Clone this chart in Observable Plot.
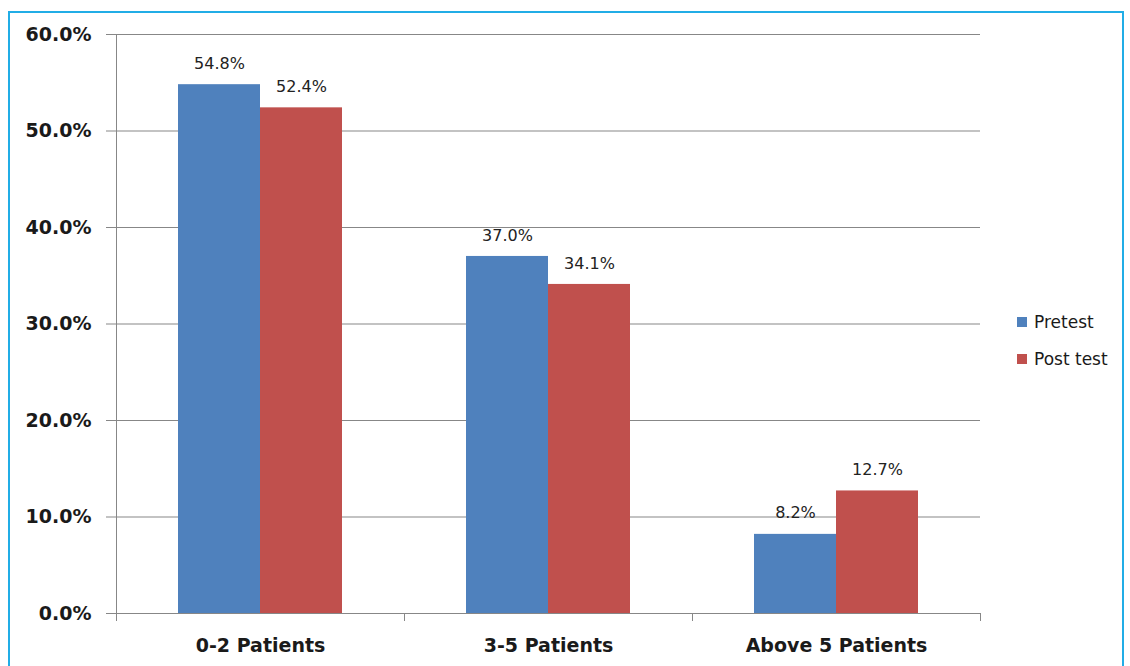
<!DOCTYPE html>
<html>
<head>
<meta charset="utf-8">
<script src="https://cdn.jsdelivr.net/npm/d3@7"></script>
<script src="https://cdn.jsdelivr.net/npm/@observablehq/plot@0.6"></script>
<style>
  html, body { margin: 0; padding: 0; background: #fff; }
  #wrap { position: relative; width: 1130px; height: 666px; overflow: hidden; font-family: "DejaVu Sans", Verdana, sans-serif; }
  #border { position: absolute; left: 8px; top: 11px; width: 1116px; height: 700px; border: 2px solid #21ade6; box-sizing: border-box; }
  #chart { position: absolute; left: 0; top: 0; }
  #chart svg [aria-label="y-axis tick label"] text,
  #chart svg [aria-label="fx-axis tick label"] text { font-weight: bold; }
  .legend { position: absolute; left: 1017px; font-size: 17px; color: #1a1a1a; }
  .legend .item { position: absolute; left: 0; white-space: nowrap; display: flex; align-items: center; height: 20px; }
  .legend .sw { width: 10px; height: 10px; margin-right: 7px; }
</style>
</head>
<body>
<div id="wrap">
  <div id="border"></div>
  <div id="chart"></div>
  <div class="legend" id="legend"></div>
</div>
<script>
const categories = ["0-2 Patients", "3-5 Patients", "Above 5 Patients"];
const series = ["Pretest", "Post test"];
const pretest = [0.548, 0.370, 0.082];
const posttest = [0.524, 0.341, 0.127];
const yTicks = [0, 0.1, 0.2, 0.3, 0.4, 0.5, 0.6];
const colors = ["#4f81bd", "#c0504d"];

const rows = [];
categories.forEach((c, i) => {
  rows.push({category: c, series: series[0], value: pretest[i]});
  rows.push({category: c, series: series[1], value: posttest[i]});
});

const W = 1130, H = 666;
const mL = 115, mR = 150, mT = 34, mB = 53;
const facetH = H - mT - mB;
const gray = "#878787";
const pct = d3.format(".1%");

const chart = Plot.plot({
  width: W, height: H,
  marginLeft: mL, marginRight: mR, marginTop: mT, marginBottom: mB,
  style: {fontFamily: "DejaVu Sans, Verdana, sans-serif", background: "transparent", color: "#1a1a1a"},
  fx: {domain: categories, padding: 0, label: null},
  x: {domain: series, paddingInner: 0, paddingOuter: 0.745, axis: null},
  y: {domain: [0, 0.6], label: null},
  color: {domain: series, range: colors},
  marks: [
    Plot.gridY(yTicks, {stroke: gray, strokeOpacity: 1}),
    Plot.ruleY([0], {stroke: gray}),
    Plot.frame({anchor: "left", facet: "super", stroke: gray}),
    Plot.frame({anchor: "left", stroke: gray, insetTop: facetH, insetBottom: -7}),
    Plot.frame({anchor: "right", stroke: gray, insetTop: facetH, insetBottom: -7}),
    Plot.barY(rows, {fx: "category", x: "series", y: "value", fill: "series"}),
    Plot.text(rows, {fx: "category", x: "series", y: "value", text: d => pct(d.value), dy: -21, fontSize: 16, fill: "#222"}),
    Plot.axisY(yTicks, {tickFormat: pct, tickSize: 10, tickPadding: 15, fontSize: 19, stroke: gray, fill: "#1a1a1a", label: null}),
    Plot.axisFx({anchor: "bottom", tickSize: 0, tickPadding: 25, fontSize: 19, fill: "#1a1a1a", label: null})
  ]
});
document.getElementById("chart").appendChild(chart);

const legend = document.getElementById("legend");
const legendTops = [312, 349];
series.forEach((s, i) => {
  const item = document.createElement("div");
  item.className = "item";
  item.style.top = legendTops[i] + "px";
  const sw = document.createElement("span");
  sw.className = "sw";
  sw.style.background = colors[i];
  const label = document.createElement("span");
  label.textContent = s;
  item.appendChild(sw);
  item.appendChild(label);
  legend.appendChild(item);
});
legend.style.top = "0px";
</script>
</body>
</html>
